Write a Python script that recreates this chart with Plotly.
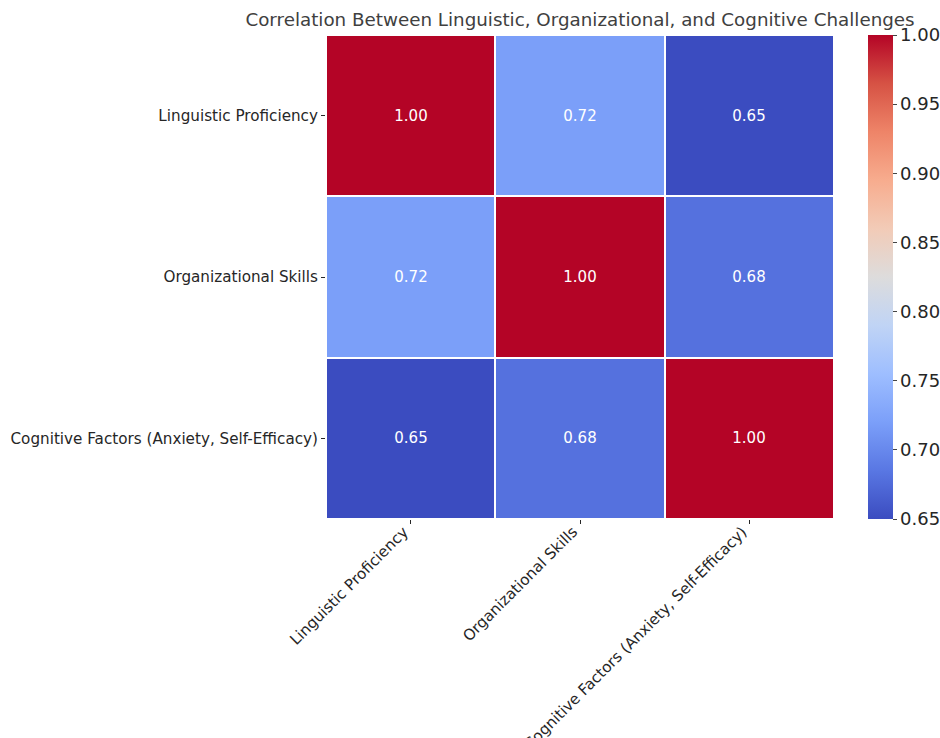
import plotly.graph_objects as go

factors = [
    "Linguistic Proficiency",
    "Organizational Skills",
    "Cognitive Factors (Anxiety, Self-Efficacy)",
]
corr_values = [
    [1.00, 0.72, 0.65],
    [0.72, 1.00, 0.68],
    [0.65, 0.68, 1.00],
]
cbar_ticks = [0.65, 0.70, 0.75, 0.80, 0.85, 0.90, 0.95, 1.00]

# matplotlib "coolwarm" sampled at tenths
coolwarm = [
    [0.0, "#3b4cc0"], [0.1, "#5977e3"], [0.2, "#7b9ff9"], [0.3, "#9ebeff"],
    [0.4, "#c0d4f5"], [0.5, "#dddcdc"], [0.6, "#f2cbb7"], [0.7, "#f7ac8e"],
    [0.8, "#ee8468"], [0.9, "#d65244"], [1.0, "#b40426"],
]

FONT = "DejaVu Sans"
W, H = 940, 738
L, R, T, B = 326, 834, 35, 519

fig = go.Figure(
    go.Heatmap(
        z=corr_values,
        x=factors,
        y=factors,
        colorscale=coolwarm,
        zmin=0.65,
        zmax=1.00,
        xgap=2,
        ygap=2,
        texttemplate="%{z:.2f}",
        textfont=dict(family=FONT, size=15, color="white"),
        colorbar=dict(
            x=(868 - L) / (R - L),
            xanchor="left",
            y=0.5,
            len=1,
            thickness=25,
            xpad=0,
            ypad=0,
            outlinewidth=0,
            tickvals=cbar_ticks,
            ticktext=[f"{v:.2f}" for v in cbar_ticks],
            ticks="outside",
            ticklen=4,
            tickfont=dict(family=FONT, size=18, color="#262626"),
        ),
    )
)

fig.update_layout(
    width=W,
    height=H,
    margin=dict(l=L, r=W - R, t=T, b=H - B, autoexpand=False),
    plot_bgcolor="white",
    paper_bgcolor="white",
    font=dict(family=FONT, color="#262626"),
    title=dict(
        text="Correlation Between Linguistic, Organizational, and Cognitive Challenges",
        x=0.5,
        xref="paper",
        xanchor="center",
        y=1 - 20 / H,
        yref="container",
        yanchor="middle",
        font=dict(family=FONT, size=18.3, color="#404040"),
    ),
    xaxis=dict(
        tickangle=-45,
        ticks="outside",
        ticklen=4,
        tickcolor="#262626",
        tickfont=dict(family=FONT, size=15.2, color="#262626"),
        ticklabelstandoff=-7,
        ticklabelshift=-7,
        showgrid=False,
        zeroline=False,
        automargin=False,
    ),
    yaxis=dict(
        autorange="reversed",
        ticks="outside",
        ticklen=4,
        tickcolor="#262626",
        tickfont=dict(family=FONT, size=15.2, color="#262626"),
        showgrid=False,
        zeroline=False,
        automargin=False,
    ),
)

# the page body has a default 8px margin; drop it so the figure sits at the corner
fig.write_html(
    "out.html",
    config={"displayModeBar": False},
    post_script="document.body.style.margin='0';",
)
